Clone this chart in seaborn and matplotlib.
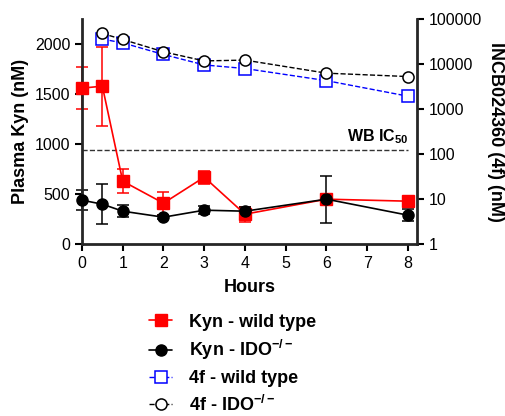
import numpy as np
import pandas as pd
import seaborn as sns
import matplotlib.pyplot as plt
from matplotlib.ticker import FixedLocator, NullLocator

hours = [0, 0.5, 1, 2, 3, 4, 6, 8]
kyn_wt = [1560, 1580, 630, 410, 670, 300, 450, 430]
kyn_wt_err = [210, 395, 120, 115, 65, 75, 20, 15]
kyn_ido = [440, 400, 330, 270, 340, 330, 450, 290]
kyn_ido_err = [100, 200, 60, 20, 40, 40, 235, 60]

hours_4f = [0.5, 1, 2, 3, 4, 6, 8]
f4_wt = [36000, 29700, 16400, 9600, 8000, 4300, 1940]
f4_ido = [48000, 35300, 18800, 11800, 12300, 6300, 5300]

wb_ic50 = 940  # on the left (Kyn) axis scale

sns.set_theme(style="ticks")
plt.rcParams["font.family"] = ["Liberation Sans", "DejaVu Sans"]
plt.rcParams["text.color"] = "black"
plt.rcParams["axes.labelcolor"] = "black"
plt.rcParams["mathtext.fontset"] = "custom"
plt.rcParams["mathtext.rm"] = "Liberation Sans"
plt.rcParams["mathtext.bf"] = "Liberation Sans:bold"

fig = plt.figure(figsize=(5.06, 4.16), dpi=100)
ax = fig.add_axes([0.162, 0.413, 0.662, 0.541])
ax2 = ax.twinx()

# Kyn on the left axis
for y, e, c in [(kyn_wt, kyn_wt_err, "red"), (kyn_ido, kyn_ido_err, "black")]:
    eb = ax.errorbar(hours, y, yerr=e, fmt="none", ecolor=c, elinewidth=1.1, capsize=4, capthick=1.1, zorder=2)
    for art in eb.lines[1] + eb.lines[2]:
        art.set_clip_on(False)
sns.lineplot(x=hours, y=kyn_wt, ax=ax, color="red", lw=1.2, marker="s", markersize=8,
             markeredgecolor="red", markeredgewidth=1, label="Kyn - wild type", legend=False,
             zorder=3, clip_on=False)
sns.lineplot(x=hours, y=kyn_ido, ax=ax, color="black", lw=1.2, marker="o", markersize=8,
             markeredgecolor="black", markeredgewidth=1, label=r"Kyn - IDO$^{\mathbf{-/-}}$", legend=False,
             zorder=3, clip_on=False)

ax.plot([0, 8], [wb_ic50, wb_ic50], ls="--", color="#333333", lw=1)
ax.text(8, wb_ic50 + 40, r"WB IC$_{\mathbf{50}}$", ha="right", va="bottom", fontsize=11.5, fontweight="bold")

# 4f on the right (log) axis
sns.lineplot(x=hours_4f, y=f4_wt, ax=ax2, color="blue", lw=1, ls="--", marker="s", markersize=8,
             markerfacecolor="white", markeredgecolor="blue", markeredgewidth=1.1,
             label="4f - wild type", legend=False, clip_on=False)
sns.lineplot(x=hours_4f, y=f4_ido, ax=ax2, color="black", lw=1, ls="--", marker="o", markersize=8,
             markerfacecolor="white", markeredgecolor="black", markeredgewidth=1.1,
             label=r"4f - IDO$^{\mathbf{-/-}}$", legend=False, clip_on=False)

ax.set_xlim(0, 8.22)
ax.set_ylim(0, 2250)
ax.set_xticks(range(0, 9))
ax.set_yticks([0, 500, 1000, 1500, 2000])
ax2.set_yscale("log")
ax2.set_ylim(1, 100000)
ax2.yaxis.set_major_locator(FixedLocator([1, 10, 100, 1000, 10000, 100000]))
ax2.yaxis.set_minor_locator(NullLocator())
ax2.set_yticklabels(["1", "10", "100", "1000", "10000", "100000"])

for a in (ax, ax2):
    a.spines["top"].set_visible(False)
    for s in ("left", "right", "bottom"):
        a.spines[s].set_linewidth(2)
    a.tick_params(width=1.5, length=5, labelsize=11.5, color="black", labelcolor="black")
ax.spines["right"].set_visible(False)
ax2.spines["left"].set_visible(False)
ax2.spines["bottom"].set_visible(False)

ax.set_xlabel("Hours", fontsize=13, fontweight="bold", labelpad=6)
ax.set_ylabel("Plasma Kyn (nM)", fontsize=13, fontweight="bold", labelpad=4)
ax2.set_ylabel("INCB024360 (4f) (nM)", fontsize=13, fontweight="bold", rotation=270, labelpad=16)

h1, l1 = ax.get_legend_handles_labels()
h2, l2 = ax2.get_legend_handles_labels()
leg = fig.legend(h1 + h2, l1 + l2, loc="upper left", bbox_to_anchor=(0.262, 0.285),
                 frameon=False, handlelength=1.3, labelspacing=0.42, handletextpad=0.9,
                 prop={"weight": "bold", "size": 13})

fig.savefig("out.png", dpi=100)
